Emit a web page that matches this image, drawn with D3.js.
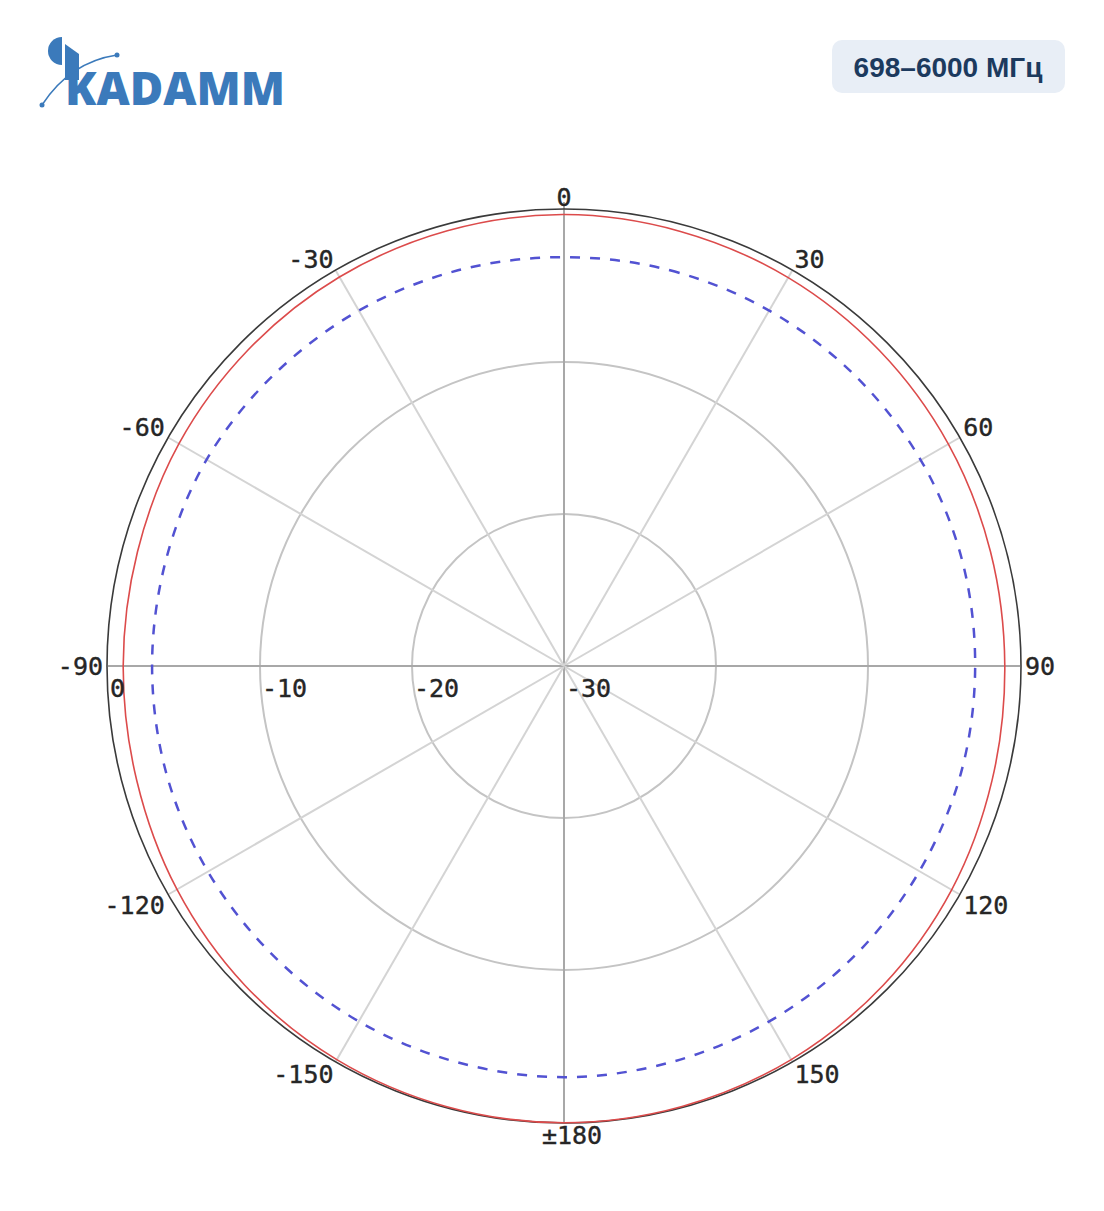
<!DOCTYPE html>
<html>
<head>
<meta charset="utf-8">
<script src="https://cdn.jsdelivr.net/npm/d3@7"></script>
<style>
  body { margin: 0; background: #fff; }
  svg { display: block; }
</style>
</head>
<body>
<div class="visContainer"></div>
<script>
// Chart data.
const angles = [0, 15, 30, 45, 60, 75, 90, 105, 120, 135, 150, 165, 180,
                195, 210, 225, 240, 255, 270, 285, 300, 315, 330, 345];
const redValues = [-0.3, -0.4, -0.5, -0.65, -0.8, -0.95, -1.0, -0.85, -0.55, -0.3, -0.1, 0, 0.05,
                   0, -0.1, -0.3, -0.6, -0.9, -1.0, -0.95, -0.75, -0.6, -0.45, -0.35];
const blueValues = [-3.1, -3.05, -3.0, -2.95, -2.9, -2.9, -2.95, -2.95, -3.0, -3.0, -3.0, -3.0, -2.95,
                    -3.0, -3.0, -3.0, -2.95, -2.9, -2.9, -2.9, -2.85, -2.95, -3.0, -3.05];
const ringTicks = [0, -10, -20, -30];
const spokeAngles = [0, 30, 60, 90, 120, 150, 180, 210, 240, 270, 300, 330];
const angleLabels = ['0', '30', '60', '90', '120', '150', '\u00b1180', '-150', '-120', '-90', '-60', '-30'];
const bandLabel = '698\u20136000 \u041c\u0413\u0446';

// SVG constants.
const width = 1104;
const height = 1211;
const cx = 564;
const cy = 666;
const radius = 456;

const svg = d3.select('.visContainer')
              .append('svg')
              .attr('width', width)
              .attr('height', height);

// Logo.
const logo = svg.append('g').attr('fill', '#3b7abb');
logo.append('path')
    .attr('d', 'M62,37 A14,14 0 0,0 62,65 Z');
logo.append('path')
    .attr('d', 'M65,44 L79,54 L79,80 L65,80 Z');
logo.append('text')
    .attr('x', 65)
    .attr('y', 105)
    .attr('font-family', 'Open Sans, sans-serif')
    .attr('font-weight', 800)
    .attr('font-size', '46px')
    .attr('textLength', 220)
    .attr('lengthAdjust', 'spacingAndGlyphs')
    .text('KADAMM');
logo.append('path')
    .attr('d', 'M42,105 Q70,62 117,55')
    .attr('fill', 'none')
    .attr('stroke', '#3b7abb')
    .attr('stroke-width', 1.5);
logo.append('circle').attr('cx', 42).attr('cy', 105).attr('r', 2.5);
logo.append('circle').attr('cx', 117).attr('cy', 55).attr('r', 2.5);

// Frequency badge.
svg.append('rect')
   .attr('x', 832)
   .attr('y', 40)
   .attr('width', 233)
   .attr('height', 53)
   .attr('rx', 10)
   .attr('fill', '#e8eef6');
svg.append('text')
   .attr('x', 948)
   .attr('y', 77)
   .attr('text-anchor', 'middle')
   .attr('font-family', 'Liberation Sans, Arial, sans-serif')
   .attr('font-weight', 'bold')
   .attr('font-size', '28px')
   .attr('fill', '#1c3a5e')
   .text(bandLabel);

// Scales.
const r = d3.scaleLinear().domain([-30, 0]).range([0, radius]);
const rad = d => d * Math.PI / 180;

const chart = svg.append('g').attr('transform', `translate(${cx},${cy})`);

// Grid rings.
chart.selectAll('.ring')
     .data(ringTicks.filter(d => d > -30 && d < 0))
     .enter()
     .append('circle')
     .attr('r', d => r(d))
     .attr('fill', 'none')
     .attr('stroke', '#c4c4c4')
     .attr('stroke-width', 2);

// Spokes.
chart.selectAll('.spoke')
     .data(spokeAngles)
     .enter()
     .append('line')
     .attr('x1', 0)
     .attr('y1', 0)
     .attr('x2', d => r(0) * Math.sin(rad(d)))
     .attr('y2', d => -r(0) * Math.cos(rad(d)))
     .attr('stroke', d => d % 90 === 0 ? '#a8a8a8' : '#d4d4d4')
     .attr('stroke-width', 2);
chart.append('line')
     .attr('x1', 0).attr('y1', -r(0))
     .attr('x2', 0).attr('y2', -r(0) - 8)
     .attr('stroke', '#a8a8a8')
     .attr('stroke-width', 2);

// Outer circle.
chart.append('circle')
     .attr('r', r(0) + 1)
     .attr('fill', 'none')
     .attr('stroke', '#3a3a3a')
     .attr('stroke-width', 1.6);

// Traces.
const line = d3.lineRadial()
               .angle(d => rad(d[0]))
               .radius(d => r(d[1]))
               .curve(d3.curveCardinalClosed);

chart.append('path')
     .datum(angles.map((a, i) => [a, blueValues[i]]))
     .attr('d', line)
     .attr('fill', 'none')
     .attr('stroke', '#5252d2')
     .attr('stroke-width', 2.5)
     .attr('stroke-dasharray', '10,10');

chart.append('path')
     .datum(angles.map((a, i) => [a, redValues[i]]))
     .attr('d', line)
     .attr('fill', 'none')
     .attr('stroke', '#dc4b4b')
     .attr('stroke-width', 1.6);

// Angle labels.
const labelFont = 'DejaVu Sans Mono, monospace';
chart.selectAll('.angleLabel')
     .data(spokeAngles)
     .enter()
     .append('text')
     .attr('x', d => (r(0) + 5) * Math.sin(rad(d)))
     .attr('y', d => -(r(0) + 4) * Math.cos(rad(d)))
     .attr('text-anchor', d => d === 0 || d === 180 ? 'middle' : (d < 180 ? 'start' : 'end'))
     .attr('dominant-baseline', d => d === 90 || d === 270 ? 'central' : (d > 90 && d < 270 ? 'hanging' : 'auto'))
     .attr('dx', d => d === 180 ? 8 : 0)
     .attr('font-family', labelFont)
     .attr('font-size', '25px')
     .attr('fill', '#262626')
     .attr('stroke', '#262626')
     .attr('stroke-width', 0.4)
     .text((d, i) => angleLabels[i]);

// Radial labels.
chart.selectAll('.ringLabel')
     .data(ringTicks)
     .enter()
     .append('text')
     .attr('x', d => -r(d) + 2)
     .attr('y', 31)
     .attr('font-family', labelFont)
     .attr('font-size', '25px')
     .attr('fill', '#262626')
     .attr('stroke', '#262626')
     .attr('stroke-width', 0.4)
     .text(d => d);
</script>
</body>
</html>
